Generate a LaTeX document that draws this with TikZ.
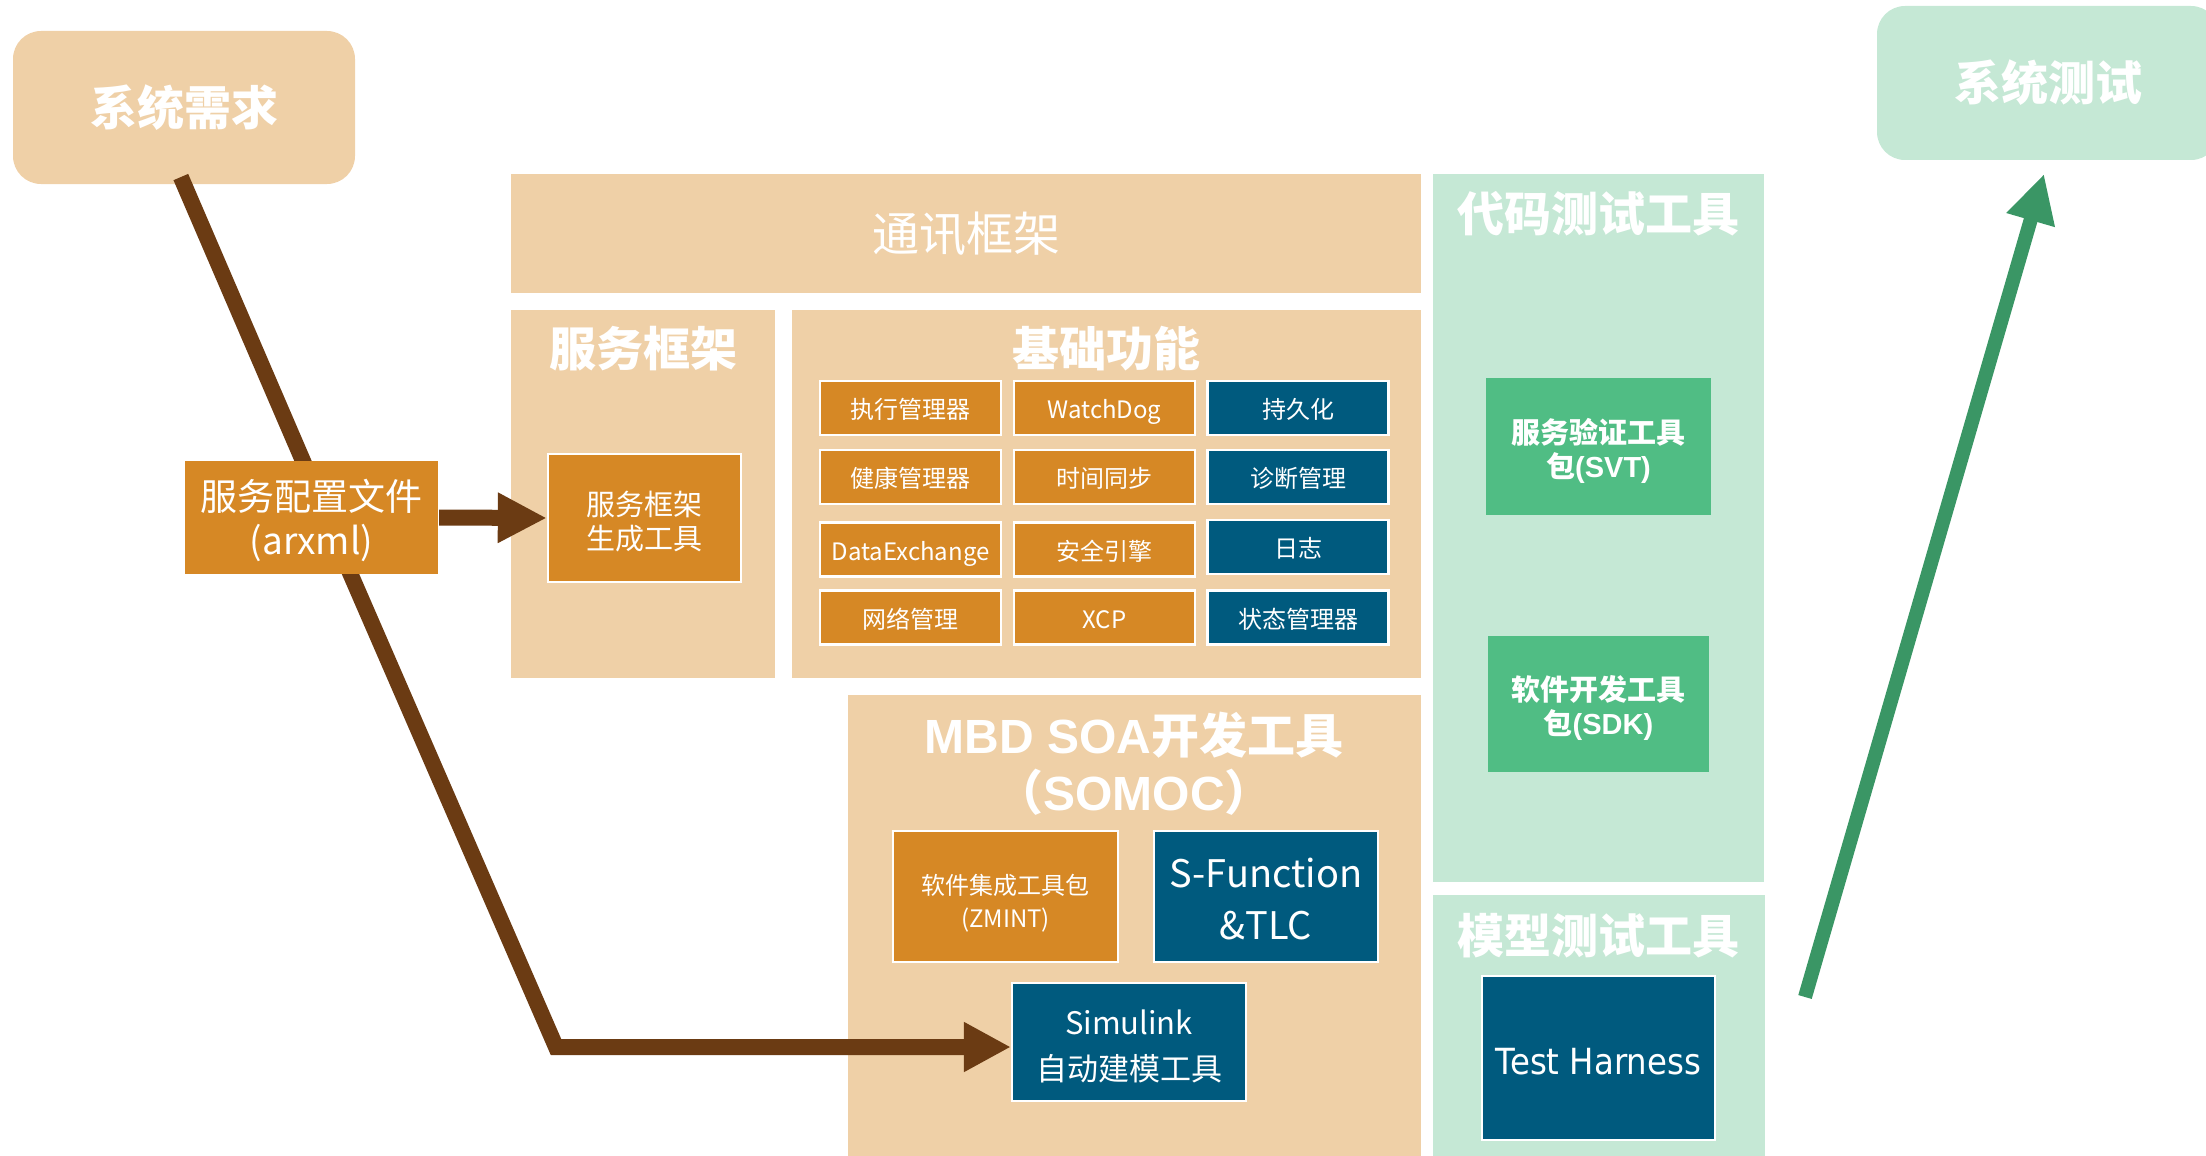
\documentclass[tikz,border=0pt]{standalone}
\usepackage{fontspec}
\setmainfont{Noto Sans CJK SC}
\newfontfamily\lib{Liberation Sans}
\newfontfamily\dvs{DejaVu Sans}[FakeStretch=0.9]
\usetikzlibrary{arrows.meta,calc}
\definecolor{tanc}{HTML}{EFD0A7}
\definecolor{orangec}{HTML}{D68825}
\definecolor{bluec}{HTML}{005A7E}
\definecolor{lgreen}{HTML}{C5E8D5}
\definecolor{mgreen}{HTML}{50BD84}
\definecolor{agreen}{HTML}{3A9665}
\definecolor{brownc}{HTML}{6B3B13}
\pgfdeclarelayer{panels}
\pgfdeclarelayer{links}
\pgfsetlayers{panels,links,main}
\tikzset{
  panel/.style={fill=tanc, draw=none, inner sep=0pt, text=white},
  gpanel/.style={fill=lgreen, draw=none, inner sep=0pt, text=white},
  ttl/.style={text=white, inner sep=0pt, font=\fontsize{23.5}{28}\selectfont\bfseries},
  box/.style={draw=white, line width=1.2pt, text=white, align=center, inner sep=0pt},
  obox/.style={box, fill=orangec},
  bbox/.style={box, fill=bluec},
  gbox/.style={fill=mgreen, draw=none, text=white, align=center, inner sep=0pt},
  cell/.style={minimum width=90.5pt, minimum height=27pt, font=\fontsize{12}{14}\selectfont,
               text height=11.4pt, text depth=0.6pt},
  barrow/.style={draw=brownc, line width=8pt, line join=miter},
  garrow/.style={draw=agreen, line width=7pt, -{Triangle[length=24pt,width=23.5pt]}},
}
\begin{document}
\begin{tikzpicture}[x=0.5pt,y=-0.5pt]
\useasboundingbox (0,0) rectangle (2206,1156);

% ---------- panels ----------
\begin{pgfonlayer}{panels}
\node[panel, rounded corners=14pt, minimum width=171pt, minimum height=76.5pt,
      font=\fontsize{23.5}{28}\selectfont\bfseries] (req) at (184,107.5) {系统需求};
\node[gpanel, rounded corners=14pt, minimum width=171pt, minimum height=77pt,
      font=\fontsize{23.5}{28}\selectfont\bfseries] (systest) at (2048,83) {系统测试};
\node[panel, minimum width=455pt, minimum height=59.5pt,
      font=\fontsize{23.5}{28}\selectfont] (comm) at (966,233.5) {通讯框架};
\node[panel, minimum width=132pt, minimum height=184pt] (svcfw) at (643,494) {};
\node[panel, minimum width=314.5pt, minimum height=184pt] (basic) at (1106.5,494) {};
\node[panel, minimum width=286.5pt, minimum height=232.5pt] (mbd) at (1134.5,927.5) {};
\node[gpanel, minimum width=165.5pt, minimum height=354pt] (codetest) at (1598.5,528) {};
\node[gpanel, minimum width=166pt, minimum height=132.5pt] (modeltest) at (1599,1027.5) {};
\end{pgfonlayer}

% ---------- titles ----------
\node[ttl] (svcfwT) at (643,349) {服务框架};
\node[ttl] (basicT) at (1106,349) {基础功能};
\node[ttl, font=\fontsize{24}{28}\selectfont\bfseries] (mbdT1) at (1134,735) {{\lib\bfseries MBD SOA}开发工具};
\node[ttl, font=\fontsize{24}{28}\selectfont\bfseries] (mbdT2) at (1134,792) {（{\lib\bfseries SOMOC}）};
\node[ttl] (codetestT) at (1598,214) {代码测试工具};
\node[ttl] (modeltestT) at (1598,936) {模型测试工具};

% ---------- basic function grid ----------
\node[obox, cell] (g11) at (910.5,408) {执行管理器};
\node[obox, cell] (g12) at (1104.5,408) {WatchDog};
\node[bbox, cell] (g13) at (1298,408) {持久化};
\node[obox, cell] (g21) at (910.5,477) {健康管理器};
\node[obox, cell] (g22) at (1104.5,477) {时间同步};
\node[bbox, cell] (g23) at (1298,477) {诊断管理};
\node[obox, cell] (g31) at (910.5,549.5) {DataExchange};
\node[obox, cell] (g32) at (1104.5,549.5) {安全引擎};
\node[bbox, cell] (g33) at (1298,547) {日志};
\node[obox, cell] (g41) at (910.5,617.5) {网络管理};
\node[obox, cell] (g42) at (1104.5,617.5) {XCP};
\node[bbox, cell] (g43) at (1298,617.5) {状态管理器};

% ---------- other boxes ----------
\node[obox, draw=none, minimum width=126.5pt, minimum height=56.5pt,
      font=\fontsize{18.5}{22}\selectfont] (arxml) at (311.5,517.5) {\rule{0pt}{1.03em}服务配置文件\\(arxml)};
\node[obox, minimum width=96.5pt, minimum height=64pt,
      font=\fontsize{14.5}{17}\selectfont] (gen) at (644.5,518) {\rule{0pt}{1.12em}服务框架\\生成工具};
\node[obox, minimum width=112.5pt, minimum height=65.5pt,
      font=\fontsize{12}{16.5}\selectfont] (zmint) at (1005.5,896.5) {\rule{0pt}{1.4em}软件集成工具包\\(ZMINT)};
\node[bbox, minimum width=112pt, minimum height=65.5pt,
      font=\fontsize{19}{26}\selectfont] (sfun) at (1266,896.5) {\rule{0pt}{0.93em}S-Function\\\&TLC};
\node[bbox, minimum width=117pt, minimum height=59pt,
      font=\fontsize{15.5}{23}\selectfont] (simu) at (1129,1042) {\rule{0pt}{1.07em}Simulink\\自动建模工具};
\node[gbox, minimum width=112.5pt, minimum height=68.5pt,
      font=\fontsize{14.5}{17}\selectfont\bfseries] (svt) at (1598.5,446.5) {\rule{0pt}{1.16em}服务验证工具\\包{\lib\bfseries (SVT)}};
\node[gbox, minimum width=110.5pt, minimum height=68pt,
      font=\fontsize{14.5}{17}\selectfont\bfseries] (sdk) at (1598.5,704) {\rule{0pt}{1.16em}软件开发工具\\包{\lib\bfseries (SDK)}};
\node[bbox, minimum width=116.5pt, minimum height=82pt, text height=17pt, text depth=1pt,
      font=\dvs\fontsize{18}{22}\selectfont] (harness) at (1598.5,1058) {Test Harness};

% ---------- connectors ----------
\coordinate (c1) at (556,1047);
\coordinate (g0) at (1805,997);
\coordinate (g1) at (2044,174);
\begin{pgfonlayer}{links}
\draw[barrow, shorten <=-4pt, shorten >=-4pt] (req.south) -- ([xshift=-4.5pt]arxml.north);
\draw[barrow, shorten <=-4pt, -{Triangle[length=23.5pt,width=23.5pt]}]
  ([xshift=19.75pt]arxml.south) -- (c1) -- (c1 -| simu.west);
\draw[barrow, -{Triangle[length=24.5pt,width=23.5pt]}] (arxml.east) -- (gen.west);
\draw[garrow] (g0) -- (g1);
\end{pgfonlayer}
\end{tikzpicture}
\end{document}
